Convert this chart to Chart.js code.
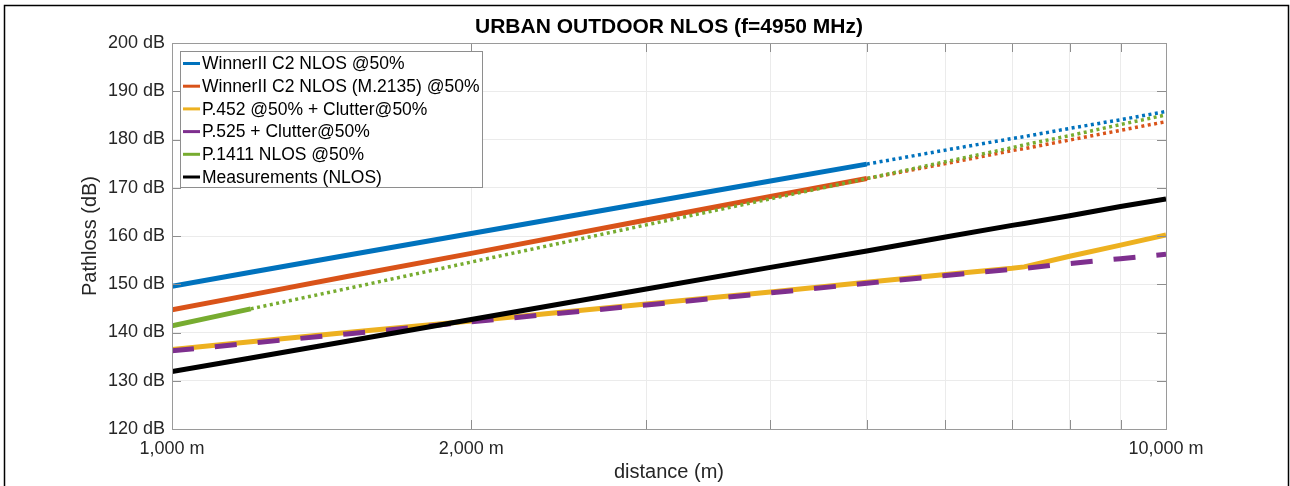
<!DOCTYPE html>
<html>
<head>
<meta charset="utf-8">
<script src="https://cdn.jsdelivr.net/npm/chart.js@4"></script>
<style>
  body { margin: 0; background: #fff; }
  #wrap { width: 1290px; height: 486px; position: relative; }
</style>
</head>
<body>
<div id="wrap"><canvas id="pathlossChart"></canvas></div>
<script>
(function () {
  "use strict";

  var distances = [1000, 1200, 1500, 2000, 3000, 4000, 5000, 6000, 7000, 7200, 8000, 9000, 10000];
  var gridDistances = [1000, 2000, 3000, 4000, 5000, 6000, 7000, 8000, 9000, 10000];
  var labeledDistances = [1000, 2000, 10000];

  var seriesNames = [
    "WinnerII C2 NLOS @50%",
    "WinnerII C2 NLOS (M.2135) @50%",
    "P.452 @50% + Clutter@50%",
    "P.525 + Clutter@50%",
    "P.1411 NLOS @50%",
    "Measurements (NLOS)",
  ];

  var winner = [149.6, 152.5, 156.0, 160.5, 166.9, 171.4, 174.9, 177.8, 180.2, 180.6, 182.3, 184.1, 185.8];
  var winnerM2135 = [144.7, 147.8, 151.6, 156.4, 163.3, 168.2, 171.9, 175.0, 177.7, 178.1, 179.9, 181.9, 183.7];
  var p452 = [136.5, 138.1, 140.0, 142.4, 145.9, 148.4, 150.4, 152.0, 153.3, 153.6, 155.8, 158.1, 160.2];
  var p525 = [136.2, 137.8, 139.7, 142.2, 145.7, 148.2, 150.2, 151.8, 153.1, 153.3, 154.3, 155.3, 156.2];
  var p1411 = [141.4, 144.9, 149.1, 154.6, 162.3, 167.7, 171.9, 175.4, 178.3, 178.9, 180.8, 183.1, 185.1];
  var measured = [131.9, 134.7, 138.2, 142.7, 149.0, 153.5, 156.9, 159.8, 162.2, 162.6, 164.2, 166.1, 167.7];

  // model validity limits: solid up to here, dotted beyond
  var winnerValidTo = 5000;
  var p1411ValidTo = 1200;

  var yTicks = [120, 130, 140, 150, 160, 170, 180, 190, 200];

  var blue = "#0072BD";
  var orange = "#D95319";
  var yellow = "#EDB120";
  var purple = "#7E2F8E";
  var green = "#77AC30";
  var black = "#000000";
  var legendColors = [blue, orange, yellow, purple, green, black];

  var FONT = "'Liberation Sans', Arial, Helvetica, sans-serif";

  function pts(values, from, to) {
    var out = [];
    for (var i = 0; i < distances.length; i++) {
      if (distances[i] >= from && distances[i] <= to) {
        out.push({ x: distances[i], y: values[i] });
      }
    }
    return out;
  }

  function solid(label, values, color, order, to) {
    return {
      label: label,
      data: pts(values, 1000, to || 10000),
      borderColor: color,
      borderWidth: 5,
      pointRadius: 0,
      tension: 0,
      order: order,
    };
  }

  function dotted(label, values, color, order, from) {
    return {
      label: label,
      data: pts(values, from, 10000),
      borderColor: color,
      borderWidth: 3.5,
      borderDash: [3, 3.5],
      pointRadius: 0,
      tension: 0,
      order: order,
    };
  }

  var purpleSet = solid(seriesNames[3], p525, purple, 1);
  purpleSet.borderDash = [22, 21];

  var datasets = [
    solid(seriesNames[5], measured, black, 0),
    purpleSet,
    solid(seriesNames[2], p452, yellow, 2),
    dotted(seriesNames[4], p1411, green, 3, p1411ValidTo),
    solid(seriesNames[4], p1411, green, 3, p1411ValidTo),
    dotted(seriesNames[1], winnerM2135, orange, 4, winnerValidTo),
    solid(seriesNames[1], winnerM2135, orange, 4, winnerValidTo),
    dotted(seriesNames[0], winner, blue, 5, winnerValidTo),
    solid(seriesNames[0], winner, blue, 5, winnerValidTo),
  ];

  var decor = {
    id: "decor",
    beforeDraw: function (chart) {
      var c = chart.ctx;
      c.save();
      c.fillStyle = "#fff";
      c.fillRect(0, 0, chart.width, chart.height);
      c.restore();
    },
    afterDatasetsDraw: function (chart) {
      var c = chart.ctx;
      var a = chart.chartArea;
      var xs = chart.scales.x;
      var ys = chart.scales.y;
      c.save();
      c.strokeStyle = "#8e8e8e";
      c.lineWidth = 1;
      c.beginPath();
      gridDistances.forEach(function (d) {
        var px = Math.round(xs.getPixelForValue(d)) + 0.5;
        c.moveTo(px, a.bottom);
        c.lineTo(px, a.bottom - 9);
        c.moveTo(px, a.top);
        c.lineTo(px, a.top + 9);
      });
      yTicks.forEach(function (v) {
        var py = Math.round(ys.getPixelForValue(v)) + 0.5;
        c.moveTo(a.left, py);
        c.lineTo(a.left + 9, py);
        c.moveTo(a.right, py);
        c.lineTo(a.right - 9, py);
      });
      c.stroke();
      c.strokeStyle = "#9a9a9a";
      c.strokeRect(Math.round(a.left) + 0.5, Math.round(a.top) + 0.5,
        Math.round(a.right - a.left), Math.round(a.bottom - a.top));
      c.restore();
    },
    afterDraw: function (chart) {
      var c = chart.ctx;
      var a = chart.chartArea;
      var cx = (a.left + a.right) / 2;
      c.save();

      // outer frame (bottom edge cut off)
      c.strokeStyle = "#000";
      c.lineWidth = 1.5;
      c.beginPath();
      c.moveTo(4.5, 486);
      c.lineTo(4.5, 5.5);
      c.lineTo(1288.5, 5.5);
      c.lineTo(1288.5, 486);
      c.stroke();

      // title
      c.fillStyle = "#000";
      c.font = "bold 21px " + FONT;
      c.textAlign = "center";
      c.textBaseline = "middle";
      c.fillText("URBAN OUTDOOR NLOS (f=4950 MHz)", cx, 27);

      // axis titles
      c.fillStyle = "#262626";
      c.font = "20px " + FONT;
      c.fillText("distance (m)", cx, 472);
      c.save();
      c.translate(90, (a.top + a.bottom) / 2);
      c.rotate(-Math.PI / 2);
      c.fillText("Pathloss (dB)", 0, 0);
      c.restore();

      // legend box inside the axes
      var bx = 180, by = 51, bw = 302, bh = 136;
      c.fillStyle = "#fff";
      c.fillRect(bx, by, bw, bh);
      c.strokeStyle = "#8e8e8e";
      c.lineWidth = 1;
      c.strokeRect(bx + 0.5, by + 0.5, bw, bh);
      c.font = "17.5px " + FONT;
      c.textAlign = "left";
      c.textBaseline = "middle";
      for (var i = 0; i < seriesNames.length; i++) {
        var ry = 63.5 + i * 22.7;
        c.strokeStyle = legendColors[i];
        c.lineWidth = 3;
        c.beginPath();
        c.moveTo(183, ry);
        c.lineTo(200, ry);
        c.stroke();
        c.fillStyle = "#000";
        c.fillText(seriesNames[i], 202, ry + 1);
      }
      c.restore();
    },
  };

  new Chart(document.getElementById("pathlossChart"), {
    type: "line",
    data: { datasets: datasets },
    options: {
      responsive: true,
      maintainAspectRatio: false,
      animation: false,
      layout: {
        padding: { top: 43, right: 124, bottom: 0, left: 0 },
      },
      scales: {
        x: {
          type: "logarithmic",
          min: 1000,
          max: 10000,
          afterBuildTicks: function (scale) {
            scale.ticks = gridDistances.map(function (d) {
              return { value: d };
            });
          },
          afterFit: function (scale) {
            scale.height = 57;
          },
          grid: { color: "#ebebeb", drawTicks: false },
          border: { display: false },
          ticks: {
            autoSkip: false,
            maxRotation: 0,
            padding: 9,
            color: "#262626",
            font: { family: FONT, size: 18 },
            callback: function (value) {
              if (labeledDistances.indexOf(value) < 0) return "";
              return value.toLocaleString("en-US") + " m";
            },
          },
        },
        y: {
          min: 120,
          max: 200,
          afterBuildTicks: function (scale) {
            scale.ticks = yTicks.map(function (v) {
              return { value: v };
            });
          },
          afterFit: function (scale) {
            scale.width = 172;
          },
          grid: { color: "#ebebeb", drawTicks: false },
          border: { display: false },
          ticks: {
            padding: 7,
            color: "#262626",
            font: { family: FONT, size: 18 },
            callback: function (value) {
              return value + " dB";
            },
          },
        },
      },
      plugins: {
        legend: { display: false },
        title: { display: false },
        tooltip: { enabled: false },
      },
    },
    plugins: [decor],
  });
})();
</script>
</body>
</html>
